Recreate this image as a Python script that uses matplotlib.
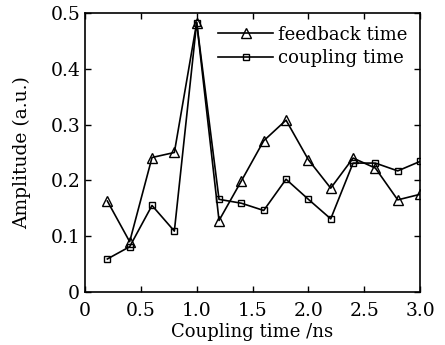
import matplotlib
matplotlib.use("Agg")
import matplotlib.pyplot as plt

# values
coupling_ns = [0.2, 0.4, 0.6, 0.8, 1.0, 1.2, 1.4, 1.6, 1.8, 2.0, 2.2, 2.4, 2.6, 2.8, 3.0]
feedback_amp = [0.163, 0.090, 0.241, 0.250, 0.483, 0.128, 0.199, 0.271, 0.308,
                0.237, 0.186, 0.240, 0.222, 0.165, 0.175]
coupling_amp = [0.059, 0.081, 0.155, 0.109, 0.483, 0.166, 0.159, 0.146, 0.202,
                0.166, 0.131, 0.231, 0.231, 0.217, 0.234]
xticks = [0, 0.5, 1.0, 1.5, 2.0, 2.5, 3.0]
xticklabels = ["0", "0.5", "1.0", "1.5", "2.0", "2.5", "3.0"]
yticks = [0, 0.1, 0.2, 0.3, 0.4, 0.5]
yticklabels = ["0", "0.1", "0.2", "0.3", "0.4", "0.5"]

plt.rcParams['font.family'] = ['DejaVu Serif']
plt.rcParams['font.size'] = 13.5

fig = plt.figure(figsize=(4.45, 3.45), dpi=100)
ax = fig.add_axes([0.191, 0.154, 0.753, 0.808])

ax.plot(coupling_ns, feedback_amp, color='black', linewidth=1.2, marker='^',
        markersize=7, markerfacecolor='none', markeredgewidth=1.0, label="feedback time")
ax.plot(coupling_ns, coupling_amp, color='black', linewidth=1.2, marker='s',
        markersize=5, markerfacecolor='none', markeredgewidth=1.0, label="coupling time")

ax.set_xlim(0, 3.0)
ax.set_ylim(0, 0.5)
ax.set_xticks(xticks)
ax.set_xticklabels(xticklabels)
ax.set_yticks(yticks)
ax.set_yticklabels(yticklabels)
ax.tick_params(direction='in', top=True, right=True, length=4, width=1)
ax.tick_params(axis='x', pad=7.5)
ax.tick_params(axis='y', pad=3.5)
for s in ax.spines.values():
    s.set_linewidth(1.2)

ax.set_xlabel("Coupling time /ns", fontsize=13, labelpad=2)
ax.set_ylabel("Amplitude (a.u.)")
ax.yaxis.set_label_coords(-0.16, 0.5)
ax.legend(loc='upper right', frameon=False, handlelength=3, handletextpad=0.3,
          labelspacing=0.3, borderaxespad=0.3, fontsize=13)

fig.savefig("out.png", dpi=100)
